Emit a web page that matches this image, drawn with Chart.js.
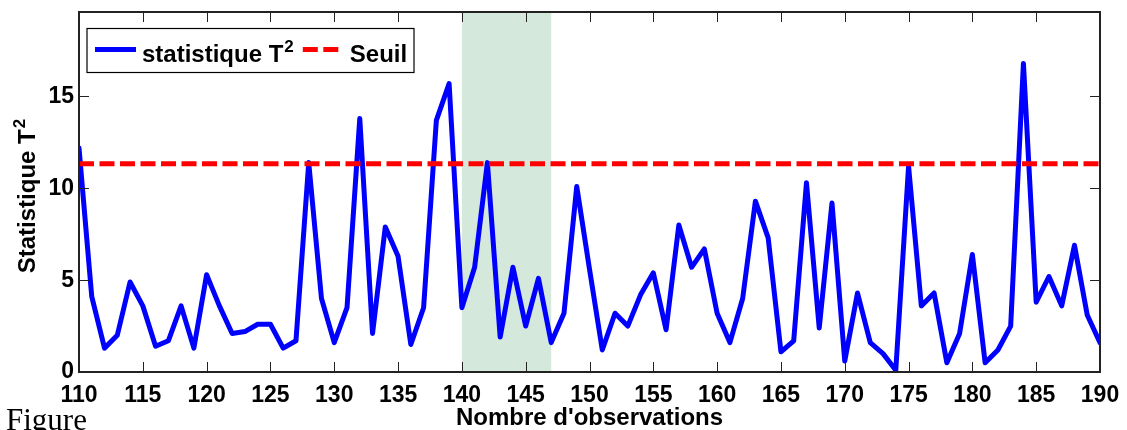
<!DOCTYPE html>
<html lang="fr">
<head>
  <meta charset="UTF-8" />
  <title>Statistique T2</title>
  <script src="https://cdn.jsdelivr.net/npm/chart.js"></script>
  <style>
    html, body { margin: 0; padding: 0; background: #fff; overflow: hidden; }
    #wrap { position: relative; width: 1127px; height: 430px; }
    #caption {
      position: absolute; left: 6px; top: 404px;
      font-family: 'Liberation Serif', 'Times New Roman', serif;
      font-size: 31px; line-height: 31px; color: #000;
    }
  </style>
</head>
<body>
  <div id="wrap">
    <canvas id="t2Chart"></canvas>
    <div id="caption">Figure</div>
  </div>

  <script>
    // numéros d'observation
    const obs = [
      110, 111, 112, 113, 114, 115, 116, 117, 118, 119,
      120, 121, 122, 123, 124, 125, 126, 127, 128, 129,
      130, 131, 132, 133, 134, 135, 136, 137, 138, 139,
      140, 141, 142, 143, 144, 145, 146, 147, 148, 149,
      150, 151, 152, 153, 154, 155, 156, 157, 158, 159,
      160, 161, 162, 163, 164, 165, 166, 167, 168, 169,
      170, 171, 172, 173, 174, 175, 176, 177, 178, 179,
      180, 181, 182, 183, 184, 185, 186, 187, 188, 189,
      190
    ];
    // statistique T2
    const t2 = [
      12.2, 4.1, 1.3, 2.0, 4.9, 3.6, 1.4, 1.7, 3.6, 1.3,
      5.3, 3.6, 2.1, 2.2, 2.6, 2.6, 1.3, 1.7, 11.4, 4.0,
      1.6, 3.5, 13.8, 2.1, 7.9, 6.3, 1.5, 3.5, 13.7, 15.7,
      3.5, 5.7, 11.4, 1.9, 5.7, 2.5, 5.1, 1.6, 3.2, 10.1,
      5.6, 1.2, 3.2, 2.5, 4.2, 5.4, 2.3, 8.0, 5.7, 6.7,
      3.2, 1.6, 4.0, 9.3, 7.3, 1.1, 1.7, 10.3, 2.4, 9.2,
      0.6, 4.3, 1.6, 1.0, 0.1, 11.2, 3.6, 4.3, 0.5, 2.1,
      6.4, 0.5, 1.2, 2.5, 16.8, 3.8, 5.2, 3.6, 6.9, 3.1,
      1.6
    ];
    const seuil = 11.34;
    const zone = [140, 147];          // intervalle grisé
    const xTicks = [110, 190, 5];     // min, max, pas
    const yTicks = [0, 19.6, 5];
    const yTitre = 'Statistique T²';

    const police = "'Liberation Sans', Arial, sans-serif";

    // texte avec exposant "2" dessiné plus gros que le glyphe ²
    function texteExposant(ctx, txt, x, base, align) {
      let sup = '';
      if (txt.endsWith('²')) { sup = '2'; txt = txt.slice(0, -1); }
      ctx.font = 'bold 24px ' + police;
      const w1 = ctx.measureText(txt).width;
      ctx.font = 'bold 17px ' + police;
      const w2 = sup ? ctx.measureText(sup).width + 1 : 0;
      if (align === 'center') x -= (w1 + w2) / 2;
      ctx.font = 'bold 24px ' + police;
      ctx.fillText(txt, x, base);
      if (sup) {
        ctx.font = 'bold 17px ' + police;
        ctx.fillText(sup, x + w1 + 1, base - 10);
      }
      return w1 + w2;
    }

    // zone verte derrière les courbes
    const zonePlugin = {
      id: 'zone',
      beforeDatasetsDraw(chart) {
        const { ctx, chartArea, scales } = chart;
        const x0 = scales.x.getPixelForValue(zone[0]);
        const x1 = scales.x.getPixelForValue(zone[1]);
        ctx.save();
        ctx.fillStyle = '#d4e8dc';
        ctx.fillRect(x0, chartArea.top, x1 - x0, chartArea.bottom - chartArea.top);
        ctx.restore();
      }
    };

    // cadre + graduations vers l'intérieur (style matlab) + légende encadrée
    const cadrePlugin = {
      id: 'cadre',
      afterDatasetsDraw(chart) {
        const { ctx, chartArea: a, scales } = chart;
        ctx.save();
        ctx.strokeStyle = '#222';
        ctx.lineWidth = 1;
        const len = 10;
        scales.x.ticks.forEach(t => {
          const px = Math.round(scales.x.getPixelForValue(t.value)) + 0.5;
          ctx.beginPath();
          ctx.moveTo(px, a.bottom); ctx.lineTo(px, a.bottom - len);
          ctx.moveTo(px, a.top); ctx.lineTo(px, a.top + len);
          ctx.stroke();
        });
        scales.y.ticks.forEach(t => {
          const py = Math.round(scales.y.getPixelForValue(t.value)) + 0.5;
          ctx.beginPath();
          ctx.moveTo(a.left, py); ctx.lineTo(a.left + len, py);
          ctx.moveTo(a.right, py); ctx.lineTo(a.right - len, py);
          ctx.stroke();
        });
        ctx.lineWidth = 2;
        ctx.strokeRect(a.left, a.top, a.right - a.left, a.bottom - a.top);

        // légende
        const lx = a.left + 8, ly = a.top + 16.5;
        ctx.fillStyle = '#fff';
        ctx.fillRect(lx, ly, 327, 44);
        ctx.lineWidth = 1.2;
        ctx.strokeStyle = '#000';
        ctx.strokeRect(lx, ly, 327, 44);

        const cy = ly + 21;
        const base = ly + 33.5;
        let x = lx + 8;
        chart.data.datasets.forEach(ds => {
          ctx.beginPath();
          ctx.strokeStyle = ds.borderColor;
          ctx.lineWidth = ds.borderWidth;
          ctx.setLineDash(ds.borderDash || []);
          ctx.moveTo(x, cy); ctx.lineTo(x + 41, cy);
          ctx.stroke();
          ctx.setLineDash([]);
          x += 47;
          ctx.fillStyle = '#000';
          ctx.textBaseline = 'alphabetic';
          ctx.textAlign = 'left';
          x += texteExposant(ctx, ds.label, x, base, 'left');
          x += 9;
        });

        // titre de l'axe y
        ctx.save();
        ctx.translate(35, (a.top + a.bottom) / 2 + 4);
        ctx.rotate(-Math.PI / 2);
        ctx.fillStyle = '#000';
        ctx.textAlign = 'left';
        ctx.textBaseline = 'alphabetic';
        texteExposant(ctx, yTitre, 0, 0, 'center');
        ctx.restore();

        ctx.restore();
      }
    };

    const ctx = document.getElementById('t2Chart').getContext('2d');
    new Chart(ctx, {
      type: 'line',
      data: {
        datasets: [
          {
            label: 'statistique T²',
            data: obs.map((o, i) => ({ x: o, y: t2[i] })),
            borderColor: '#0000ff',
            borderWidth: 5,
            borderJoinStyle: 'round',
            borderCapStyle: 'round',
            pointRadius: 0,
            tension: 0,
            order: 1
          },
          {
            label: 'Seuil',
            data: [{ x: obs[0], y: seuil }, { x: obs[obs.length - 1], y: seuil }],
            borderColor: '#ff0000',
            borderWidth: 5,
            borderDash: [15, 5.5],
            pointRadius: 0,
            order: 0
          }
        ]
      },
      options: {
        responsive: true,
        maintainAspectRatio: false,
        animation: false,
        layout: { padding: { left: 0, right: 27, top: 12, bottom: 0 } },
        plugins: {
          legend: { display: false },
          tooltip: { enabled: false }
        },
        scales: {
          x: {
            type: 'linear',
            min: xTicks[0],
            max: xTicks[1],
            grid: { display: false, drawTicks: false },
            border: { display: false },
            ticks: {
              stepSize: xTicks[2],
              padding: 10,
              maxRotation: 0,
              autoSkip: false,
              color: '#000',
              font: { family: police, size: 23, weight: 'bold' }
            },
            title: {
              display: true,
              text: "Nombre d'observations",
              color: '#000',
              padding: { top: 0, bottom: -3 },
              font: { family: police, size: 24, weight: 'bold' }
            },
            afterFit: s => { s.height = 58; s.paddingLeft = 0; s.paddingRight = 0; }
          },
          y: {
            min: yTicks[0],
            max: yTicks[1],
            grid: { display: false, drawTicks: false },
            border: { display: false },
            ticks: {
              stepSize: yTicks[2],
              includeBounds: false,
              padding: 5,
              color: '#000',
              font: { family: police, size: 23, weight: 'bold' }
            },
            afterFit: s => { s.width = 79; s.paddingTop = 0; s.paddingBottom = 0; }
          }
        }
      },
      plugins: [zonePlugin, cadrePlugin]
    });
  </script>
</body>
</html>
